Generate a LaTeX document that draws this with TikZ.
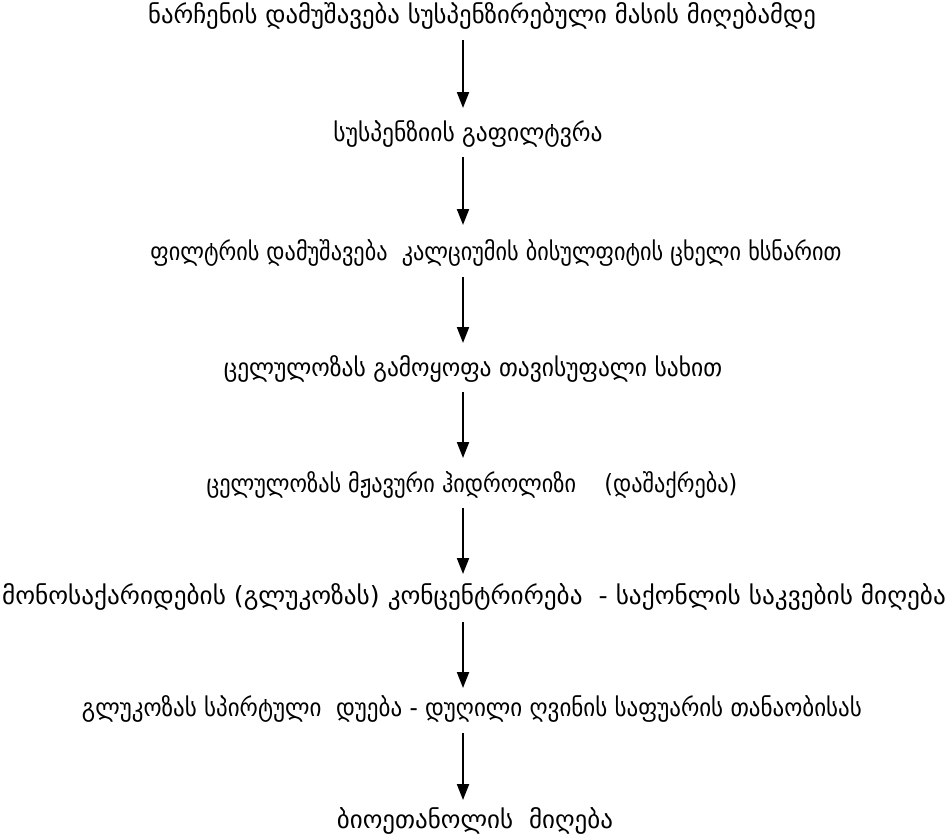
\documentclass[tikz,border=0pt]{standalone}
\usepackage{fontspec}
\usepackage{graphicx}
\newfontfamily\geo{DejaVu Sans}
\usetikzlibrary{arrows.meta}
\newcommand\hsq[2]{\scalebox{#1}[1]{#2}}
\begin{document}
\begin{tikzpicture}[x=1pt,y=-1pt,
  lbl/.style={font=\geo\fontsize{25}{30}\selectfont, inner sep=0pt, anchor=center},
  flow/.style={line width=2pt, -{Triangle[length=16pt,width=12pt]}}]
\useasboundingbox (0,0) rectangle (950,839);
\node[lbl] (n1) at (482,16) {\hsq{0.99}{ნარჩენის დამუშავება სუსპენზირებული მასის მიღებამდე}};
\node[lbl] (n2) at (468,134) {\hsq{0.94}{სუსპენზიის გაფილტვრა}};
\node[lbl] (n3) at (496,253) {\hsq{0.89}{ფილტრის დამუშავება\ \ კალციუმის ბისულფიტის ცხელი ხსნარით}};
\node[lbl] (n4) at (473,369) {\hsq{0.94}{ცელულოზას გამოყოფა თავისუფალი სახით}};
\node[lbl] (n5) at (472,485) {\hsq{0.89}{ცელულოზას მჟავური ჰიდროლიზი\ \ \ \ (დაშაქრება)}};
\node[lbl] (n6) at (474,597) {\hsq{1.01}{მონოსაქარიდების (გლუკოზას) კონცენტრირება\ \ - საქონლის საკვების მიღება}};
\node[lbl] (n7) at (472,709) {\hsq{0.92}{გლუკოზას სპირტული\ \ დუება - დუღილი ღვინის საფუარის თანაობისას}};
\node[lbl] (n8) at (475,821) {ბიოეთანოლის\ \ მიღება};
\coordinate (ax) at (463,0);
\foreach \a/\b/\s/\e in {n1/n2/40/108, n2/n3/157/225, n3/n4/277/343, n4/n5/392/458, n5/n6/508/574, n6/n7/622/688, n7/n8/733/800}
  \draw[flow] (ax |- 0,\s) -- (ax |- 0,\e);
\end{tikzpicture}
\end{document}
